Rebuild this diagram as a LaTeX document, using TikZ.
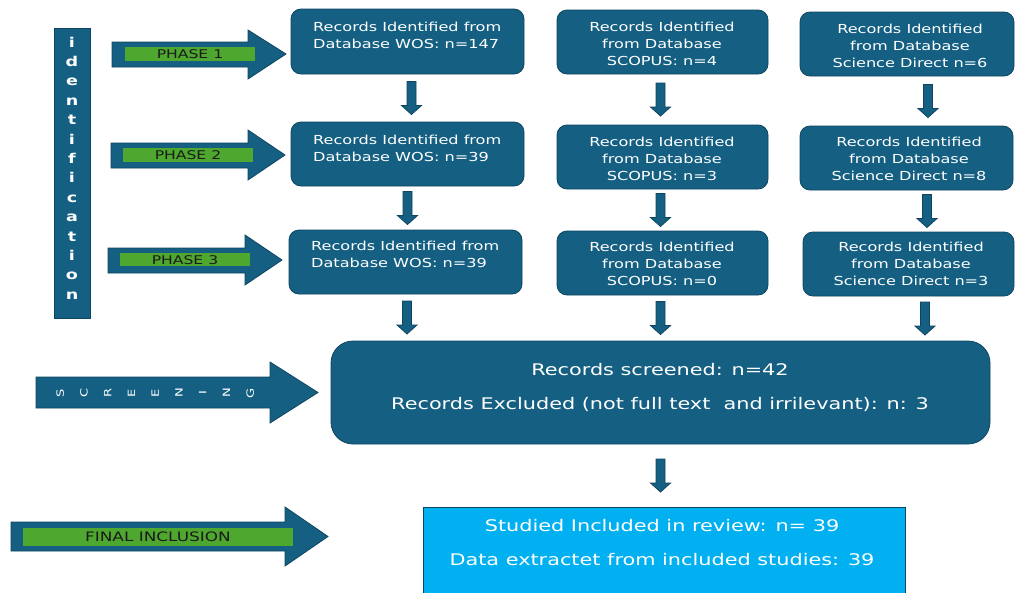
\documentclass[tikz,border=0pt]{standalone}
\usepackage{fontspec}
\setmainfont{DejaVu Sans}[FakeStretch=1.3]
\usetikzlibrary{calc}
\definecolor{teal1}{HTML}{156082}
\definecolor{tealborder}{HTML}{0E4560}
\definecolor{phasegreen}{HTML}{4EA72E}
\definecolor{lightblue}{HTML}{00B0F0}
\definecolor{labeltext}{HTML}{1A1A1A}
\begin{document}
\begin{tikzpicture}[x=1pt,y=-1pt,
  box/.style={draw=tealborder, fill=teal1, line width=0.8pt, rounded corners=10pt, inner sep=0pt},
  bigbox/.style={box, rounded corners=22pt},
  finalbox/.style={draw=tealborder, fill=lightblue, line width=0.8pt, inner sep=0pt},
  boxtext/.style={text=white, font=\fontsize{12.4}{17}\selectfont, align=center, inner sep=0pt},
  boxtextl/.style={boxtext, align=left, anchor=west},
  bigtext/.style={text=white, font=\fontsize{16}{34}\selectfont, align=center, inner sep=0pt},
  shapearrow/.style={draw=tealborder, fill=teal1, line width=0.8pt},
  greenbar/.style={fill=phasegreen, draw=none},
  phasetext/.style={text=labeltext, font=\fontsize{12}{14}\selectfont, inner sep=0pt},
  idletter/.style={text=white, font=\bfseries\fontsize{13.5}{15}\selectfont, inner sep=0pt, anchor=base},
  scrletter/.style={text=white, font=\fontsize{10}{12}\selectfont, inner sep=0pt, rotate=90, text height=7.5pt, text depth=0pt},
  blockdown/.style={draw=tealborder, fill=teal1, line width=0.8pt,
    to path={let \p1=(\tikztostart), \p2=(\tikztotarget), \p3=($(\p1)!0.5!(\p2)$) in
      (\x1-4.5pt,\y3+16.5pt) -- (\x1+4.5pt,\y3+16.5pt) -- (\x1+4.5pt,\y3-7.5pt) -- (\x1+10pt,\y3-7.5pt)
      -- (\x1,\y3-16.5pt) -- (\x1-10pt,\y3-7.5pt) -- (\x1-4.5pt,\y3-7.5pt) -- cycle}}
]
\useasboundingbox (0,0) rectangle (1015,592);

% identification bar
\node[draw=tealborder, fill=teal1, line width=0.8pt, minimum width=36, minimum height=290, inner sep=0pt] (idbar) at (72,173) {};
\foreach \ch [count=\i from 0] in {i,d,e,n,t,i,f,i,c,a,t,i,o,n}{
  \node[idletter] (id\i) at (72,{47+\i*19.4}) {\ch};
}

% phase arrows
\draw[shapearrow] (112,42) -- (248,42) -- (248,30) -- (286,54) -- (248,79) -- (248,67) -- (112,67) -- cycle;
\fill[greenbar] (125,47) rectangle (255,61);
\node[phasetext] (ph1) at (190,54.5) {PHASE 1};

\draw[shapearrow] (111,143) -- (248,143) -- (248,130) -- (285,155) -- (248,180) -- (248,168) -- (111,168) -- cycle;
\fill[greenbar] (123,148) rectangle (253,162);
\node[phasetext] (ph2) at (188,155.5) {PHASE 2};

\draw[shapearrow] (108,248) -- (245,248) -- (245,235) -- (282,260) -- (245,285) -- (245,273) -- (108,273) -- cycle;
\fill[greenbar] (120,253) rectangle (250,266);
\node[phasetext] (ph3) at (185,260) {PHASE 3};

% screening arrow
\draw[shapearrow] (36,377) -- (270,377) -- (270,362) -- (318,392.5) -- (270,423) -- (270,408) -- (36,408) -- cycle;
\foreach \ch [count=\i from 0] in {S,C,R,E,E,N,I,N,G}{
  \node[scrletter] (sc\i) at ({60+\i*23.75},393) {\ch};
}

% final inclusion arrow
\draw[shapearrow] (11,522) -- (285,522) -- (285,507) -- (328,536.5) -- (285,566) -- (285,551) -- (11,551) -- cycle;
\fill[greenbar] (23,528) rectangle (293,546);
\node[phasetext, font=\fontsize{13}{14}\selectfont] (fin) at (158,537) {FINAL INCLUSION};

% row 1
\node[box, minimum width=233, minimum height=65] (w1) at (407.5,41.5) {};
\node[box, minimum width=211, minimum height=64] (s1) at (662.5,42) {};
\node[box, minimum width=214, minimum height=64] (d1) at (907,44) {};
% row 2
\node[box, minimum width=233, minimum height=64] (w2) at (407.5,154) {};
\node[box, minimum width=211, minimum height=64] (s2) at (662.5,157) {};
\node[box, minimum width=213, minimum height=64] (d2) at (906.5,158) {};
% row 3
\node[box, minimum width=233, minimum height=64] (w3) at (405.5,262) {};
\node[box, minimum width=211, minimum height=64] (s3) at (662.5,263) {};
\node[box, minimum width=211, minimum height=64] (d3) at (908.5,264) {};

% texts
\node[boxtextl] (tw1) at (313,35.5) {Records Identified from\\Database WOS: n=147};
\node[boxtextl] (tw2) at (313,148) {Records Identified from\\Database WOS: n=39};
\node[boxtextl] (tw3) at (311,254.5) {Records Identified from\\Database WOS: n=39};
\node[boxtext] (ts1) at (662,44) {Records Identified\\from Database\\SCOPUS: n=4};
\node[boxtext] (ts2) at (662,158.5) {Records Identified\\from Database\\SCOPUS: n=3};
\node[boxtext] (ts3) at (662,263.5) {Records Identified\\from Database\\SCOPUS: n=0};
\node[boxtext] (td1) at (910,45.5) {Records Identified\\from Database\\Science Direct n=6};
\node[boxtext] (td2) at (909,159) {Records Identified\\from Database\\Science Direct n=8};
\node[boxtext] (td3) at (911,264) {Records Identified\\from Database\\Science Direct n=3};

% screening box
\node[bigbox, minimum width=659, minimum height=103] (screen) at (660.5,392.5) {};
\node[bigtext] (tscreen) at (660,387) {Records screened: n=42\\Records Excluded (not full text\ \ and irrilevant): n: 3};

% final box
\node[finalbox, minimum width=482, minimum height=92] (final) at (664,553) {};
\node[bigtext] (tfinal) at (662,543) {Studied Included in review: n= 39\\Data extractet from included studies: 39};

% down arrows
\path[blockdown] ($(w1.south)+(4,0)$) to (w2.north);
\path[blockdown] ($(s1.south)+(-2,0)$) to (s2.north);
\path[blockdown] ($(d1.south)+(21,0)$) to (d2.north);
\path[blockdown] ($(w2.south)+(0,0)$) to (w3.north);
\path[blockdown] ($(s2.south)+(-2,0)$) to (s3.north);
\path[blockdown] ($(d2.south)+(20.5,0)$) to (d3.north);
\path[blockdown] ($(w3.south)+(1.5,0)$) to (w3.south |- screen.north);
\path[blockdown] ($(s3.south)+(-2,0)$) to (s3.south |- screen.north);
\path[blockdown] ($(d3.south)+(16.5,0)$) to (d3.south |- screen.north);
\path[blockdown] (screen.south) to (final.north);
\end{tikzpicture}
\end{document}
